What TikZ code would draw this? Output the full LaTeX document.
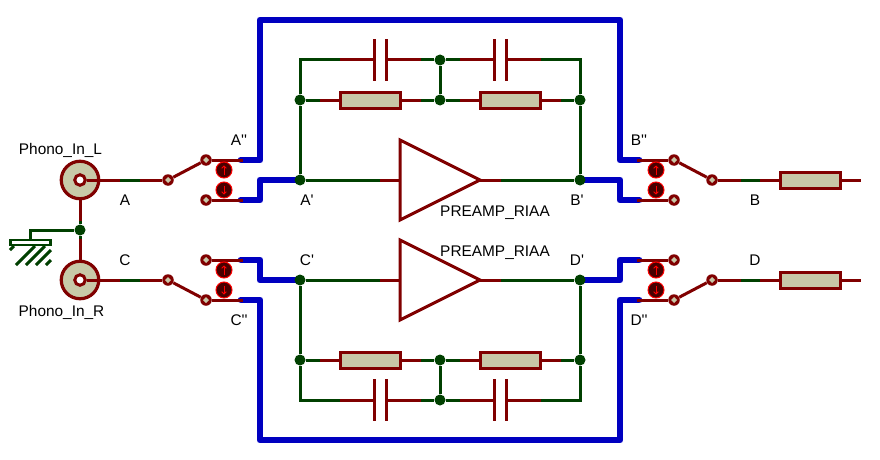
\documentclass[tikz,border=0pt]{standalone}
\usepackage{fontspec}
\usepackage{xcolor}
\usepackage{tikz}
\usetikzlibrary{positioning, arrows.meta}
\newfontfamily\lblfont{Liberation Sans}

\definecolor{pinred}{HTML}{800000}
\definecolor{netgreen}{HTML}{004000}
\definecolor{busblue}{HTML}{0000C0}
\definecolor{bodytan}{HTML}{C8C8A8}
\definecolor{btndark}{HTML}{480000}

\tikzset{
    pin/.style={draw=pinred,line width=3pt},
    net/.style={draw=netgreen,line width=3pt},
    bus/.style={draw=busblue,line width=6.8pt,line join=round,line cap=round},
    hatch/.style={draw=netgreen,line width=3pt},
    jn/.style={circle,fill=netgreen,inner sep=0pt,minimum size=11pt},
    res/.style={rectangle,draw=pinred,fill=bodytan,line width=3pt,inner sep=0pt,minimum width=60pt,minimum height=16pt},
    plate/.style={rectangle,fill=pinred,inner sep=0pt,minimum width=3pt,minimum height=42pt},
    amp/.style={draw=pinred,line width=3pt,line join=miter},
    jack/.style={circle,draw=pinred,fill=bodytan,line width=3.2pt,inner sep=0pt,minimum size=37.5pt},
    hole/.style={circle,draw=pinred,fill=white,line width=3pt,inner sep=0pt,minimum size=10.5pt},
    term/.style={circle,fill=pinred,inner sep=0pt,minimum size=11.5pt,
        path picture={\fill[bodytan,shift={(path picture bounding box.center)}] (-3,0) -- (0,-3) -- (3,0) -- (0,3) -- cycle;}},
    btnup/.style={circle,draw=red,fill=btndark,line width=1pt,inner sep=0pt,minimum size=16pt,
        path picture={\draw[red,line width=.9pt,-{Straight Barb[length=2.2pt,width=4.5pt]},shift={(path picture bounding box.center)}] (0,4.5) -- (0,-4.5);}},
    btndown/.style={circle,draw=red,fill=btndark,line width=1pt,inner sep=0pt,minimum size=16pt,
        path picture={\draw[red,line width=.9pt,-{Straight Barb[length=2.2pt,width=4.5pt]},shift={(path picture bounding box.center)}] (0,-4.5) -- (0,4.5);}},
    lbl/.style={anchor=base,inner sep=0pt,font=\lblfont\fontsize{15.4}{16}\selectfont}
}

\begin{document}
\begin{tikzpicture}[x=1pt,y=-1pt]
\useasboundingbox (0,0) rectangle (880,460);
\fill[white] (0,0) rectangle (880,460);

% =============================
% 0. Blue buses
% =============================
\draw[bus] (241,160) -- (260,160) -- (260,20) -- (620,20) -- (620,160) -- (639,160);
\draw[bus] (241,200) -- (260,200) -- (260,180) -- (300,180);
\draw[bus] (580,180) -- (620,180) -- (620,200) -- (639,200);
\draw[bus] (241,260) -- (260,260) -- (260,280) -- (300,280);
\draw[bus] (241,300) -- (260,300) -- (260,440) -- (620,440) -- (620,300) -- (639,300);
\draw[bus] (580,280) -- (620,280) -- (620,260) -- (639,260);

% =============================
% 1. Input jacks and ground
% =============================
\node[jack] (jackl) at (80,180) {};
\node[hole] (holel) at (80,180) {};
\node[jack] (jackr) at (80,280) {};
\node[hole] (holer) at (80,280) {};
\node[jn] (j0) at (80,230) {};

\coordinate (g1) at (30,230);
\coordinate (g2) at (30,240);
\coordinate (v1) at (80,221);
\coordinate (v2) at (80,239);
\draw[pin] (jackl.south) -- (v1);
\draw[pin] (v2) -- (jackr.north);
\draw[net] (v1) -- (j0) -- (v2);
\draw[net] (j0) -- (g1) -- (g2);
\node[rectangle,draw=netgreen,fill=white,line width=2.6pt,inner sep=0pt,minimum width=40pt,minimum height=5pt] (gb) at (30.5,242.5) {};

\draw[hatch] (10,250) -- (14,246);
\draw[hatch] (16,265) -- (35,246);
\draw[hatch] (26,265) -- (45,246);
\draw[hatch] (36,265) -- (51,250);
\draw[hatch] (46,265) -- (51,260);

% =============================
% 2. Input switches
% =============================
\node[term] (sa) at (168,180) {};
\node[term] (sa1) at (206,160) {};
\node[term] (sa2) at (206,200) {};
\node[term] (sc) at (168,280) {};
\node[term] (sc1) at (206,260) {};
\node[term] (sc2) at (206,300) {};

\coordinate (wa1) at (120,180);
\coordinate (wa2) at (140,180);
\coordinate (wc1) at (120,280);
\coordinate (wc2) at (140,280);
\coordinate (ea1) at (243,160);
\coordinate (ea2) at (243,200);
\coordinate (ec1) at (243,260);
\coordinate (ec2) at (243,300);

\draw[pin] (holel.east) -- (wa1);
\draw[net] (wa1) -- (wa2);
\draw[pin] (wa2) -- (sa);
\draw[pin] (sa) -- (sa1);
\draw[pin] (sa1) -- (ea1);
\draw[pin] (sa2) -- (ea2);
\draw[pin] (holer.east) -- (wc1);
\draw[net] (wc1) -- (wc2);
\draw[pin] (wc2) -- (sc);
\draw[pin] (sc) -- (sc2);
\draw[pin] (sc1) -- (ec1);
\draw[pin] (sc2) -- (ec2);

\node[btnup] (ba1) at (224,170) {};
\node[btndown] (ba2) at (224,190) {};
\node[btnup] (bc1) at (224,270) {};
\node[btndown] (bc2) at (224,290) {};

% =============================
% 3. Upper preamp with feedback
% =============================
\node[jn] (ai) at (300,180) {};
\node[jn] (ao) at (580,180) {};
\node[jn] (a1) at (300,100) {};
\node[jn] (a2) at (440,100) {};
\node[jn] (a3) at (580,100) {};
\node[jn] (a4) at (440,60) {};
\node[res] (ra1) at (370,100) {};
\node[res] (ra2) at (510,100) {};
\node[plate] (ca1) at (374.5,60) {};
\node[plate] (ca2) at (386.5,60) {};
\node[plate] (ca3) at (494.5,60) {};
\node[plate] (ca4) at (506.5,60) {};

\coordinate (tl) at (300,60);
\coordinate (tr) at (580,60);
\coordinate (n1) at (340,60);
\coordinate (n2) at (421,60);
\coordinate (n3) at (460,60);
\coordinate (n4) at (541,60);
\coordinate (n5) at (320,100);
\coordinate (n6) at (421,100);
\coordinate (n7) at (460,100);
\coordinate (n8) at (561,100);

\draw[net] (ai) -- (a1) -- (tl) -- (n1);
\draw[pin] (n1) -- (ca1);
\draw[pin] (ca2) -- (n2);
\draw[net] (n2) -- (a4) -- (n3);
\draw[pin] (n3) -- (ca3);
\draw[pin] (ca4) -- (n4);
\draw[net] (n4) -- (tr) -- (a3) -- (ao);
\draw[net] (a4) -- (a2);
\draw[net] (a1) -- (n5);
\draw[pin] (n5) -- (ra1);
\draw[pin] (ra1) -- (n6);
\draw[net] (n6) -- (a2) -- (n7);
\draw[pin] (n7) -- (ra2);
\draw[pin] (ra2) -- (n8);
\draw[net] (n8) -- (a3);

\coordinate (t1) at (400,140);
\coordinate (t2) at (400,220);
\coordinate (t3) at (480,180);
\coordinate (t4) at (400,180);
\coordinate (n9) at (380,180);
\coordinate (n10) at (501,180);
\draw[net] (ai) -- (n9);
\draw[pin] (n9) -- (t4);
\draw[pin] (t3) -- (n10);
\draw[net] (n10) -- (ao);
\draw[amp] (t1) -- (t2) -- (t3) -- cycle;

% =============================
% 4. Lower preamp with feedback
% =============================
\node[jn] (ci) at (300,280) {};
\node[jn] (co) at (580,280) {};
\node[jn] (c1) at (300,360) {};
\node[jn] (c2) at (440,360) {};
\node[jn] (c3) at (580,360) {};
\node[jn] (c4) at (440,400) {};
\node[res] (rc1) at (370,360) {};
\node[res] (rc2) at (510,360) {};
\node[plate] (cc1) at (374.5,400) {};
\node[plate] (cc2) at (386.5,400) {};
\node[plate] (cc3) at (494.5,400) {};
\node[plate] (cc4) at (506.5,400) {};

\coordinate (bl) at (300,400);
\coordinate (br) at (580,400);
\coordinate (m1) at (340,400);
\coordinate (m2) at (421,400);
\coordinate (m3) at (460,400);
\coordinate (m4) at (541,400);
\coordinate (m5) at (320,360);
\coordinate (m6) at (421,360);
\coordinate (m7) at (460,360);
\coordinate (m8) at (561,360);

\draw[net] (ci) -- (c1) -- (bl) -- (m1);
\draw[pin] (m1) -- (cc1);
\draw[pin] (cc2) -- (m2);
\draw[net] (m2) -- (c4) -- (m3);
\draw[pin] (m3) -- (cc3);
\draw[pin] (cc4) -- (m4);
\draw[net] (m4) -- (br) -- (c3) -- (co);
\draw[net] (c4) -- (c2);
\draw[net] (c1) -- (m5);
\draw[pin] (m5) -- (rc1);
\draw[pin] (rc1) -- (m6);
\draw[net] (m6) -- (c2) -- (m7);
\draw[pin] (m7) -- (rc2);
\draw[pin] (rc2) -- (m8);
\draw[net] (m8) -- (c3);

\coordinate (u1) at (400,240);
\coordinate (u2) at (400,320);
\coordinate (u3) at (480,280);
\coordinate (u4) at (400,280);
\coordinate (m9) at (380,280);
\coordinate (m10) at (501,280);
\draw[net] (ci) -- (m9);
\draw[pin] (m9) -- (u4);
\draw[pin] (u3) -- (m10);
\draw[net] (m10) -- (co);
\draw[amp] (u1) -- (u2) -- (u3) -- cycle;

% =============================
% 5. Output switches and loads
% =============================
\node[term] (sb) at (712,180) {};
\node[term] (sb1) at (674,160) {};
\node[term] (sb2) at (674,200) {};
\node[term] (sd) at (712,280) {};
\node[term] (sd1) at (674,260) {};
\node[term] (sd2) at (674,300) {};
\node[res] (rb) at (810,180) {};
\node[res] (rd) at (810,280) {};

\coordinate (eb1) at (637,160);
\coordinate (eb2) at (637,200);
\coordinate (ed1) at (637,260);
\coordinate (ed2) at (637,300);
\coordinate (wb1) at (741,180);
\coordinate (wb2) at (760,180);
\coordinate (wd1) at (741,280);
\coordinate (wd2) at (760,280);
\coordinate (xb) at (861,180);
\coordinate (xd) at (861,280);

\draw[pin] (eb1) -- (sb1);
\draw[pin] (eb2) -- (sb2);
\draw[pin] (sb1) -- (sb);
\draw[pin] (sb) -- (wb1);
\draw[net] (wb1) -- (wb2);
\draw[pin] (wb2) -- (rb);
\draw[pin] (rb) -- (xb);
\draw[pin] (ed1) -- (sd1);
\draw[pin] (ed2) -- (sd2);
\draw[pin] (sd2) -- (sd);
\draw[pin] (sd) -- (wd1);
\draw[net] (wd1) -- (wd2);
\draw[pin] (wd2) -- (rd);
\draw[pin] (rd) -- (xd);

\node[btnup] (bb1) at (656,170) {};
\node[btndown] (bb2) at (656,190) {};
\node[btnup] (bd1) at (656,270) {};
\node[btndown] (bd2) at (656,290) {};

% =============================
% 6. Labels
% =============================
\node[lbl] (lpl) at (60.5,154) {Phono\_In\_L};
\node[lbl] (lpr) at (61.5,316) {Phono\_In\_R};
\node[lbl] (la) at (125,205) {A};
\node[lbl] (lc) at (125,265) {C};
\node[lbl] (laa) at (239,145) {A''};
\node[lbl] (lcc) at (239,325) {C''};
\node[lbl] (lap) at (307,205) {A'};
\node[lbl] (lcp) at (307,265) {C'};
\node[lbl] (lbp) at (577,205) {B'};
\node[lbl] (ldp) at (577,265) {D'};
\node[lbl] (lbb) at (639,145) {B''};
\node[lbl] (ldd) at (639,325) {D''};
\node[lbl] (lb) at (755,205) {B};
\node[lbl] (ld) at (755,265) {D};
\node[lbl] (lpa) at (495,216.5) {PREAMP\_RIAA};
\node[lbl] (lpc) at (495,256.5) {PREAMP\_RIAA};
\end{tikzpicture}
\end{document}
